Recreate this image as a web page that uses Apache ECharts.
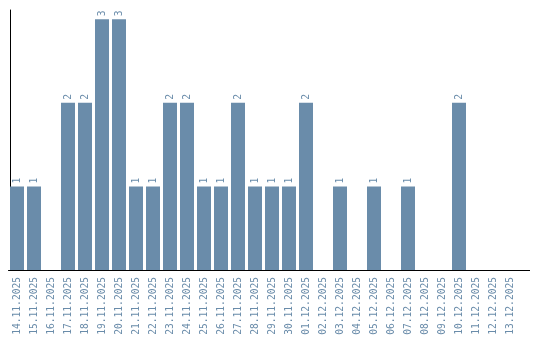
<!DOCTYPE html>
<html><head><meta charset="utf-8">
<script src="https://cdn.jsdelivr.net/npm/echarts@6/dist/echarts.min.js"></script>
<style>html,body{margin:0;padding:0;background:#fff}#c{width:540px;height:340px}</style>
</head><body><div id="c"></div>
<script>
const categories = ["14.11.2025","15.11.2025","16.11.2025","17.11.2025","18.11.2025","19.11.2025","20.11.2025","21.11.2025","22.11.2025","23.11.2025","24.11.2025","25.11.2025","26.11.2025","27.11.2025","28.11.2025","29.11.2025","30.11.2025","01.12.2025","02.12.2025","03.12.2025","04.12.2025","05.12.2025","06.12.2025","07.12.2025","08.12.2025","09.12.2025","10.12.2025","11.12.2025","12.12.2025","13.12.2025"];
const counts = [1,1,0,2,2,3,3,1,1,2,2,1,1,2,1,1,1,2,0,1,0,1,0,1,0,0,2,0,0,0];

const chart = echarts.init(document.getElementById('c'), null, {renderer:'canvas'});
const barColor = '#6a8caa';
const font = 'DejaVu Sans Mono';
chart.setOption({
  animation:false,
  grid:{left:8.5, top:10, width:510, bottom:70},
  xAxis:{type:'category', data:categories,
    axisLine:{lineStyle:{color:'#000', width:1}},
    axisTick:{show:false},
    axisLabel:{rotate:90, interval:0, margin:7, color:barColor, fontFamily:font, fontSize:9.6}
  },
  yAxis:{type:'value', min:0, max:3.11, offset:-1.5,
    axisLine:{show:true, lineStyle:{color:'#000', width:1}},
    axisTick:{show:false}, axisLabel:{show:false}, splitLine:{show:false}
  },
  graphic:[{type:'line', shape:{x1:518, y1:270.5, x2:530, y2:270.5}, style:{stroke:'#000', lineWidth:1}}],
  series:[{type:'bar', data:counts.map(v=>v===0?null:v), barWidth:14,
    itemStyle:{color:barColor},
    label:{show:true, position:'top', rotate:90, align:'left', verticalAlign:'middle', distance:3,
      color:barColor, fontFamily:font, fontSize:9.6}
  }]
});
</script></body></html>
